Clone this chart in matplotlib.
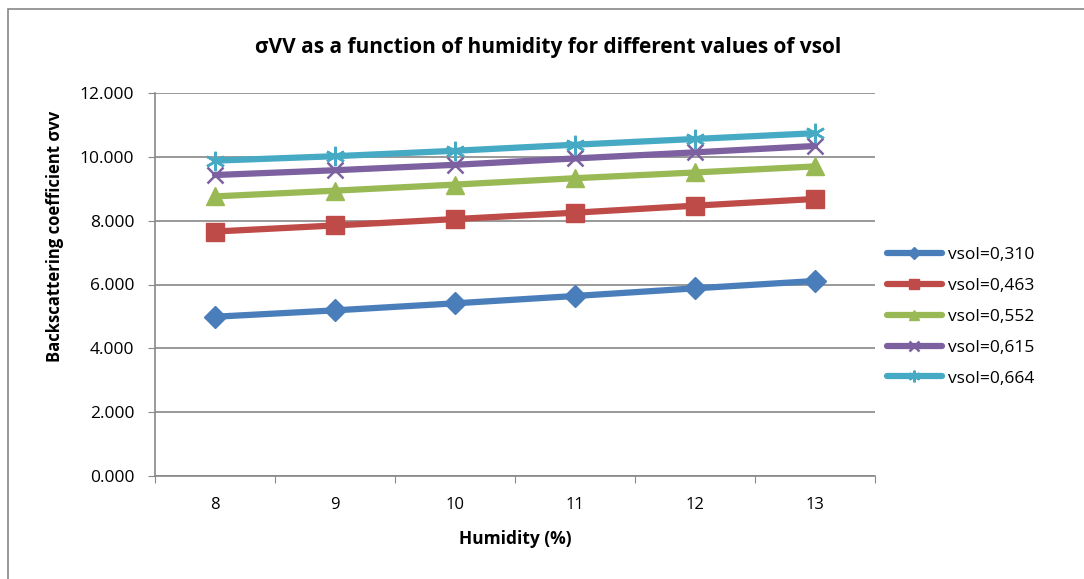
import matplotlib
matplotlib.use("Agg")
import matplotlib.pyplot as plt
from matplotlib.patches import Rectangle

humidity = ["8", "9", "10", "11", "12", "13"]
vsol_labels = ["vsol=0,310", "vsol=0,463", "vsol=0,552", "vsol=0,615", "vsol=0,664"]
sigma_0310 = [4.99, 5.19, 5.41, 5.64, 5.88, 6.11]
sigma_0463 = [7.66, 7.85, 8.05, 8.25, 8.47, 8.68]
sigma_0552 = [8.76, 8.94, 9.13, 9.33, 9.51, 9.70]
sigma_0615 = [9.43, 9.58, 9.75, 9.95, 10.14, 10.34]
sigma_0664 = [9.88, 10.02, 10.19, 10.38, 10.56, 10.74]
yticks = [0, 2, 4, 6, 8, 10, 12]

series = [sigma_0310, sigma_0463, sigma_0552, sigma_0615, sigma_0664]
colors = ["#4A7EBB", "#BE4B48", "#98B954", "#7D60A0", "#46AAC5"]
markers = ["D", "s", "^", "x", (6, 2, 0)]
msizes = [11, 12.5, 12.5, 12, 14]

plt.rcParams["font.family"] = ["Open Sans", "DejaVu Sans"]

fig = plt.figure(figsize=(10.84, 5.79), dpi=100)
W, H = 1084, 579
# outer chart frame: only top and left edges fall inside the image
fig.patches.append(Rectangle((8 / W, -0.5), 2.0, 1.5 - 9 / H, transform=fig.transFigure,
                             fill=False, edgecolor="#888888", linewidth=1.2))

ax = fig.add_axes([155 / W, (H - 476) / H, 720 / W, 383 / H])
x = list(range(len(humidity)))
for vals, c, m, ms, lab in zip(series, colors, markers, msizes, vsol_labels):
    thin = m == "x" or isinstance(m, tuple)
    ax.plot(x, vals, color=c, linewidth=4.5, marker=m, markersize=ms,
            markeredgewidth=1.8 if thin else 1, markeredgecolor=c,
            label=lab, solid_capstyle="round")

ax.set_xlim(-0.5, len(humidity) - 0.5)
ax.set_ylim(0, 12)
ax.set_yticks(yticks)
ax.set_yticklabels([f"{v:.3f}" for v in yticks], fontsize=12.5)
ax.set_xticks([i - 0.5 for i in range(len(humidity) + 1)])
ax.set_xticklabels([])
ax.set_xticks(x, minor=True)
ax.set_xticklabels(humidity, minor=True, fontsize=12)
ax.tick_params(axis="x", which="minor", length=0, pad=15)
ax.tick_params(axis="x", which="major", length=5, color="#888888", direction="out")
ax.tick_params(axis="y", length=5, color="#888888", direction="out", pad=10)
ax.grid(axis="y", color="#888888", linewidth=1.2)
ax.set_axisbelow(True)
for s in ["top", "right"]:
    ax.spines[s].set_visible(False)
for s in ["left", "bottom"]:
    ax.spines[s].set_color("#888888")
    ax.spines[s].set_linewidth(1.2)

ax.set_xlabel("Humidity (%)", fontsize=12.5, fontweight="bold")
ax.xaxis.set_label_coords(0.5, -0.141)
ax.set_ylabel("Backscattering coefficient σvv", fontsize=12, fontweight="bold")
ax.yaxis.set_label_coords(-0.126, 0.626)
fig.text(548 / W, 1 - 47 / H, "σVV as a function of humidity for different values of vsol",
         fontsize=15, fontweight="bold", ha="center", va="center")

ax.legend(loc="center left", bbox_to_anchor=(1.004, 0.416), frameon=False, fontsize=12.5,
          handlelength=3.2, labelspacing=0.85, handletextpad=0.35, markerscale=0.6,
          borderaxespad=0.1)

fig.savefig("out.png", dpi=100)
